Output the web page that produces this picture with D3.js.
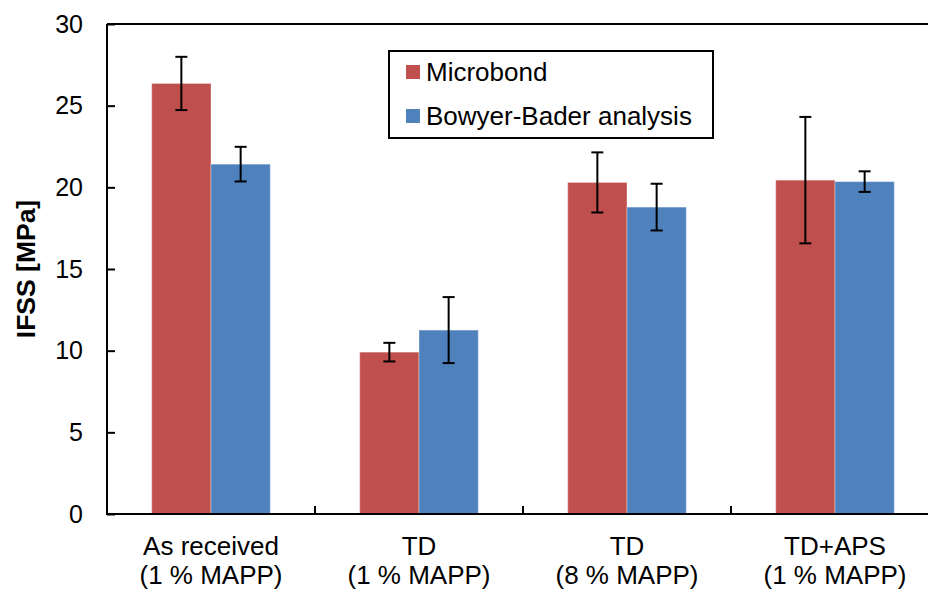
<!DOCTYPE html>
<html>
<head>
<meta charset="utf-8">
<script src="https://cdn.jsdelivr.net/npm/d3@7"></script>
<style>
  html, body { margin: 0; padding: 0; background: #fff; }
  svg { display: block; font-family: Arial, "Liberation Sans", sans-serif; }
</style>
</head>
<body>
<svg id="chart" width="928" height="590"></svg>
<script>
// Sample treatments (two-line axis labels)
const categories = [
  ["As received", "(1 % MAPP)"],
  ["TD", "(1 % MAPP)"],
  ["TD", "(8 % MAPP)"],
  ["TD+APS", "(1 % MAPP)"]
];
const seriesNames = ["Microbond", "Bowyer-Bader analysis"];
const seriesColors = ["#C0504D", "#4F81BD"];

// IFSS means and standard deviations [MPa]
const microbond      = [26.36, 9.91, 20.30, 20.44];
const microbondErr   = [1.63, 0.57, 1.84, 3.87];
const bowyerBader    = [21.42, 11.26, 18.79, 20.35];
const bowyerBaderErr = [1.06, 2.02, 1.43, 0.63];

const yTicks = [0, 5, 10, 15, 20, 25, 30];

const margin = { left: 107, top: 24 };
const plotW = 832, plotH = 490;

const svg = d3.select("#chart");
const g = svg.append("g").attr("transform", `translate(${margin.left},${margin.top})`);

const catKeys = categories.map((c, i) => i);
const x = d3.scaleBand().domain(catKeys).range([0, plotW])
  .paddingInner(0.43).paddingOuter(0.215);
const xs = d3.scaleBand().domain([0, 1]).range([0, x.bandwidth()]);
const y = d3.scaleLinear().domain([0, 30]).range([plotH, 0]);

const series = [
  { values: microbond, errs: microbondErr },
  { values: bowyerBader, errs: bowyerBaderErr }
];

// Bars
series.forEach((s, si) => {
  g.append("g").selectAll("rect")
    .data(s.values)
    .join("rect")
    .attr("x", (d, i) => x(i) + xs(si))
    .attr("y", d => y(d))
    .attr("width", xs.bandwidth())
    .attr("height", d => y(0) - y(d))
    .attr("fill", seriesColors[si])
    .attr("stroke", "rgba(255,255,255,0.35)")
    .attr("stroke-width", 1);
});

// Error bars
series.forEach((s, si) => {
  const eg = g.append("g").attr("stroke", "#000").attr("stroke-width", 2);
  s.values.forEach((v, i) => {
    const cx = x(i) + xs(si) + xs.bandwidth() / 2;
    const lo = y(v - s.errs[i]), hi = y(v + s.errs[i]);
    eg.append("line").attr("x1", cx).attr("x2", cx).attr("y1", lo).attr("y2", hi);
    eg.append("line").attr("x1", cx - 6).attr("x2", cx + 6).attr("y1", lo).attr("y2", lo);
    eg.append("line").attr("x1", cx - 6).attr("x2", cx + 6).attr("y1", hi).attr("y2", hi);
  });
});

// Top frame line
g.append("line")
  .attr("x1", 0).attr("x2", plotW).attr("y1", 0).attr("y2", 0)
  .attr("stroke", "#000").attr("stroke-width", 2);

// Y axis (ticks pointing inward)
const yAxis = g.append("g")
  .call(d3.axisLeft(y).tickValues(yTicks).tickSize(-8).tickPadding(24));
yAxis.select(".domain").attr("stroke", "#000").attr("stroke-width", 2)
  .attr("d", `M0,${plotH + 1}V0`);
yAxis.selectAll(".tick line").attr("stroke", "#000").attr("stroke-width", 2);
yAxis.selectAll(".tick text")
  .attr("font-size", 25).attr("fill", "#000")
  .attr("font-family", "Arial, 'Liberation Sans', sans-serif");

// X axis line with category separators
const xg = g.append("g").attr("transform", `translate(0,${plotH})`);
xg.append("line").attr("x1", -1).attr("x2", plotW).attr("y1", 0).attr("y2", 0)
  .attr("stroke", "#000").attr("stroke-width", 2);
catKeys.slice(1).forEach(i => {
  const bx = x(i) - x.step() * x.paddingInner() / 2;
  xg.append("line").attr("x1", bx).attr("x2", bx).attr("y1", 0).attr("y2", -8)
    .attr("stroke", "#000").attr("stroke-width", 2);
});

// Category labels
catKeys.forEach(i => {
  const t = xg.append("text")
    .attr("text-anchor", "middle")
    .attr("font-size", 26)
    .attr("fill", "#000");
  categories[i].forEach((line, li) => {
    t.append("tspan")
      .attr("x", x(i) + x.bandwidth() / 2)
      .attr("y", 41 + li * 29)
      .text(line);
  });
});

// Y axis title
svg.append("text")
  .attr("transform", `translate(34.5,${margin.top + plotH / 2}) rotate(-90)`)
  .attr("text-anchor", "middle")
  .attr("font-size", 26.5)
  .attr("font-weight", "bold")
  .attr("fill", "#000")
  .text("IFSS [MPa]");

// Legend
const lg = svg.append("g").attr("transform", "translate(389,51)");
lg.append("rect").attr("width", 324).attr("height", 87)
  .attr("fill", "#fff").attr("stroke", "#000").attr("stroke-width", 2);
seriesNames.forEach((name, i) => {
  lg.append("rect").attr("x", 17).attr("y", 14 + i * 44)
    .attr("width", 14).attr("height", 14).attr("fill", seriesColors[i]);
  lg.append("text").attr("x", 37).attr("y", 30 + i * 43.5)
    .attr("font-size", 26).attr("fill", "#000").text(name);
});
</script>
</body>
</html>
